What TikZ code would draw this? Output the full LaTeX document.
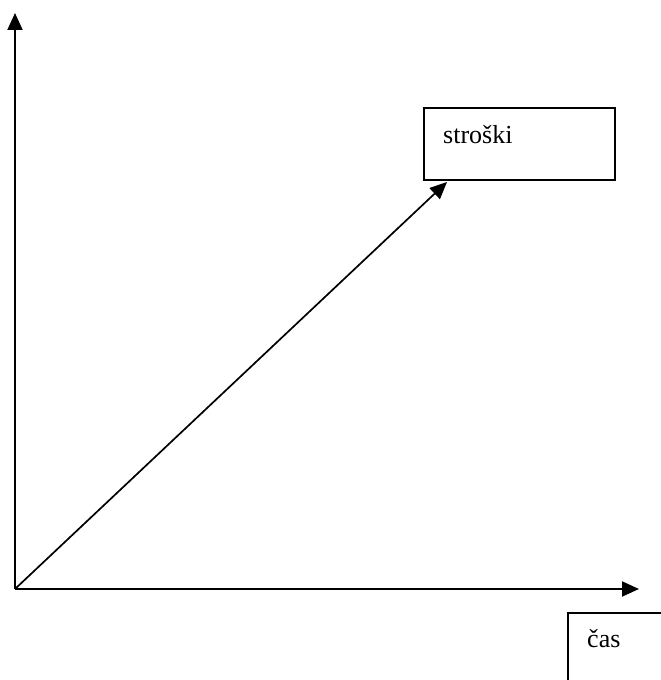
\documentclass[tikz,border=0pt]{standalone}
\usepackage{fontspec}
\setmainfont{Liberation Serif}
\usetikzlibrary{arrows.meta,positioning,calc}

\begin{document}
\begin{tikzpicture}[
    x=1pt,y=1pt,
    every node/.style={font=\fontsize{26}{30}\selectfont},
    axis/.style={-{Triangle[length=17pt,width=15pt]},line width=2pt},
    arr/.style={-{Triangle[length=17pt,width=15pt]},line width=1.7pt},
    box/.style={draw,line width=1.8pt,inner sep=0pt,anchor=south west},
    lab/.style={anchor=base west,inner sep=0pt}
  ]
  \useasboundingbox (0,0) rectangle (661,680);
  \clip (0,0) rectangle (661,680);
  %% Axes
  \coordinate (o) at (15,91);
  \coordinate (ytip) at (15,667);
  \coordinate (xtip) at (639,91);
  \draw[axis] (o) -- (ytip);
  \draw[axis] (o) -- (xtip);
  %% Cost box
  \node[box,minimum width=191pt,minimum height=72pt] (stroski) at (423,499) {};
  \node[lab] (stroskiTxt) at ($(stroski.north west)+(20,-36)$) {stroški};
  \coordinate (hit) at ($(stroski.south west)+(24,-1)$);
  \draw[arr] (o) -- (hit);
  %% Time box
  \node[box,minimum width=110pt,minimum height=80pt,anchor=north west] (cas) at (567,68) {};
  \node[lab] (casTxt) at ($(cas.north west)+(20,-36)$) {čas};
\end{tikzpicture}
\end{document}
